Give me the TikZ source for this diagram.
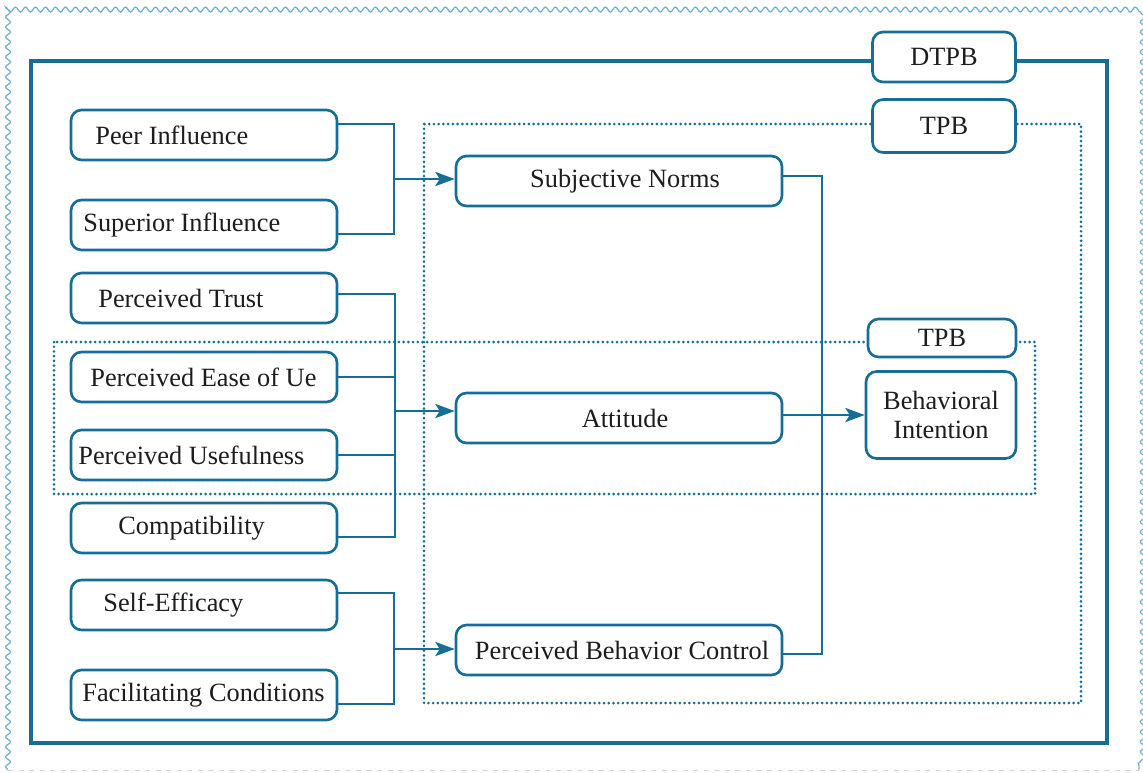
\documentclass[tikz,border=0pt]{standalone}
\usepackage{fontspec}
\setmainfont{Liberation Serif}
\usetikzlibrary{arrows.meta,decorations.pathmorphing}
\definecolor{tpbblue}{RGB}{22,110,150}
\definecolor{txtgray}{RGB}{30,28,28}
\definecolor{wavyblue}{RGB}{110,175,210}
\tikzstyle{leftbox}=[draw=tpbblue,line width=1.5pt,rounded corners=6pt,fill=white,minimum width=5.32cm,minimum height=1cm,inner sep=0pt]
\tikzstyle{midbox}=[leftbox,minimum width=6.52cm,text=txtgray]
\tikzstyle{tagbox}=[leftbox,minimum width=2.86cm,text=txtgray]
\tikzstyle{boxtext}=[anchor=west,inner sep=0pt,text=txtgray]
\tikzstyle{link}=[draw=tpbblue,line width=1.6pt]
\tikzstyle{arrowlink}=[link,-{Stealth[length=11pt,width=8pt,inset=2.5pt]}]
\tikzstyle{dotframe}=[draw=tpbblue,line width=1.7pt,line cap=round,dash pattern=on 0pt off 2.7pt]

\begin{document}
\begin{tikzpicture}[x=0.02cm,y=-0.02cm,font=\fontsize{15}{18}\selectfont]
    \useasboundingbox (0,0) rectangle (1143,772);
    % Frames first
    \draw[wavyblue,line width=0.7pt,decorate,decoration={snake,segment length=0.2cm,amplitude=0.05cm}]
        (8,770) -- (8,8) -- (1139,8) -- (1139,770);
    \draw[gray!35,dashed,line width=0.5pt] (8,770) -- (1139,770);
    \draw[tpbblue,line width=1.8pt] (31,61) rectangle (1107,743);
    \path[dotframe] (424,124) rectangle (1081,703);
    \path[dotframe] (54,342) rectangle (1035,494);
    \node[tagbox] (dtpb) at (944,57) {DTPB};
    \node[tagbox,minimum height=1.06cm] (tpbA) at (944,126) {TPB};
    \node[tagbox,minimum width=2.96cm,minimum height=0.76cm] (tpbB) at (942,338) {TPB};
    % Then the boxes on the left
    \foreach \ypos/\name/\tx/\txt in {135/peer/95/Peer Influence, 225/superior/83/Superior Influence,
        298/trust/98/Perceived Trust, 377/ease/90/Perceived Ease of Ue, 455/useful/78/Perceived Usefulness,
        528/compat/118/Compatibility, 605/selfeff/103/Self-Efficacy, 695/facil/82/Facilitating Conditions}
    {
        \node[leftbox] (\name) at (204,\ypos) {};
        \node[boxtext] (\name-t) at (\tx,\ypos) {\txt};
    }
    % Boxes in the middle and the target
    \node[midbox] (sn) at (619,181) {\hspace*{0.24cm}Subjective Norms};
    \node[midbox] (att) at (619,418) {\hspace*{0.24cm}Attitude};
    \node[midbox] (pbc) at (619,650) {\hspace*{0.12cm}Perceived Behavior Control};
    \node[tagbox,minimum width=3cm,minimum height=1.74cm,align=center] (bi) at (941,415) {Behavioral\\[-1pt]Intention};
    % Junctions
    \coordinate (j1) at (394,179);
    \coordinate (j2) at (395,411);
    \coordinate (j3) at (394,649);
    \coordinate (bend) at (822,415);
    % Connect boxes with lines
    \path[link] ([yshift=0.22cm]peer.east) -| (j1);
    \path[link] ([yshift=-0.18cm]superior.east) -| (j1);
    \path[arrowlink] (j1) -- (sn.west |- j1);
    \path[link] ([yshift=0.08cm]trust.east) -| (j2);
    \path[link] ([yshift=-0.18cm]compat.east) -| (j2);
    \path[link] (ease.east) -- (ease.east -| j2);
    \path[link] (useful.east) -- (useful.east -| j2);
    \path[arrowlink] (j2) -- (att.west |- j2);
    \path[link] ([yshift=0.24cm]selfeff.east) -| (j3);
    \path[link] ([yshift=-0.18cm]facil.east) -| (j3);
    \path[arrowlink] (j3) -- (pbc.west |- j3);
    \path[link] ([yshift=0.1cm]sn.east) -| (bend) |- ([yshift=-0.08cm]pbc.east);
    \path[arrowlink] (att.east |- bi.west) -- (bi.west);
\end{tikzpicture}
\end{document}
